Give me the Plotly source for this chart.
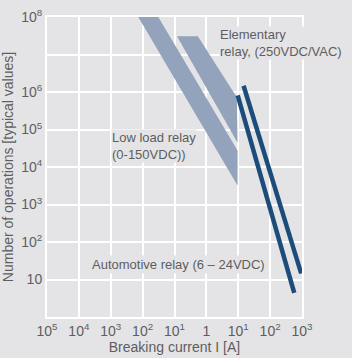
import plotly.graph_objects as go

# ---- data ----
x_tickvals = [1e-5, 1e-4, 1e-3, 1e-2, 1e-1, 1, 1e1, 1e2, 1e3]
x_ticktext = ["10<sup>5</sup>", "10<sup>4</sup>", "10<sup>3</sup>", "10<sup>2</sup>", "10<sup>1</sup>",
              "1", "10<sup>1</sup>", "10<sup>2</sup>", "10<sup>3</sup>"]
y_tickvals = [1, 1e1, 1e2, 1e3, 1e4, 1e5, 1e6, 1e7, 1e8]
y_ticktext = ["", "10", "10<sup>2</sup>", "10<sup>3</sup>", "10<sup>4</sup>", "10<sup>5</sup>",
              "10<sup>6</sup>", "", "10<sup>8</sup>"]

# Low load relay band (polygon outline)
lowload_I = [0.0073, 0.031, 9.5, 9.5, 0.0073]
lowload_N = [1e8, 1e8, 2.75e4, 3.2e3, 1e8]

# Elementary relay band
elem_I = [0.12, 0.54, 9.0, 9.5, 0.12]
elem_N = [3.05e7, 3.05e7, 7.2e5, 4.4e4, 3.05e7]

# Automotive relay lines
auto1_I = [9.6, 571]
auto1_N = [8.1e5, 4.4]
auto2_I = [14.7, 944]
auto2_N = [1.47e6, 14.5]

BG = "#e4e4e6"
BAND = "#92a3bb"
DARK = "#1c4c79"
TXT = "#5e5e5e"
FONT = "Liberation Sans"

fig = go.Figure()
fig.add_trace(go.Scatter(x=lowload_I, y=lowload_N, fill="toself", fillcolor=BAND,
                         mode="lines", line=dict(width=0, color=BAND), hoverinfo="skip"))
fig.add_trace(go.Scatter(x=elem_I, y=elem_N, fill="toself", fillcolor=BAND,
                         mode="lines", line=dict(width=0, color=BAND), hoverinfo="skip"))
fig.add_trace(go.Scatter(x=auto1_I, y=auto1_N, mode="lines",
                         line=dict(width=4.5, color=DARK), hoverinfo="skip"))
fig.add_trace(go.Scatter(x=auto2_I, y=auto2_N, mode="lines",
                         line=dict(width=4.5, color=DARK), hoverinfo="skip"))

ann_font = dict(family=FONT, size=13, color=TXT)
fig.add_annotation(x=0.40, y=7.3, xref="x", yref="y", text="Elementary<br>relay, (250VDC/VAC)",
                   showarrow=False, xanchor="left", yanchor="middle", align="left",
                   bgcolor=BG, font=ann_font, borderpad=0)
fig.add_annotation(x=-2.98, y=4.57, xref="x", yref="y", text="Low load relay<br>(0-150VDC))",
                   showarrow=False, xanchor="left", yanchor="middle", align="left",
                   bgcolor=BG, font=ann_font, borderpad=0)
fig.add_annotation(x=-3.66, y=1.39, xref="x", yref="y", text="Automotive relay (6 – 24VDC)",
                   showarrow=False, xanchor="left", yanchor="middle", align="left",
                   bgcolor=BG, font=ann_font, borderpad=1)

axis_common = dict(showgrid=True, gridcolor="white", gridwidth=2,
                   showline=True, linecolor="white", linewidth=2, mirror=True,
                   ticks="", zeroline=False, ticklabeloverflow="allow",
                   tickfont=dict(family=FONT, size=14, color=TXT))

fig.update_xaxes(type="log", range=[-5, 3], tickmode="array", tickvals=x_tickvals,
                 ticktext=x_ticktext,
                 title=dict(text="Breaking current I [A]", font=dict(family=FONT, size=14, color=TXT),
                            standoff=2),
                 **axis_common)
fig.update_yaxes(type="log", range=[0, 8], tickmode="array", tickvals=y_tickvals,
                 ticktext=y_ticktext,
                 title=dict(text="Number of operations [typical values]",
                            font=dict(family=FONT, size=14, color=TXT), standoff=4),
                 **axis_common)

fig.update_layout(width=352, height=358, margin=dict(l=45, r=50, t=7, b=41),
                  paper_bgcolor=BG, plot_bgcolor=BG, showlegend=False)

fig.write_html("out.html")
